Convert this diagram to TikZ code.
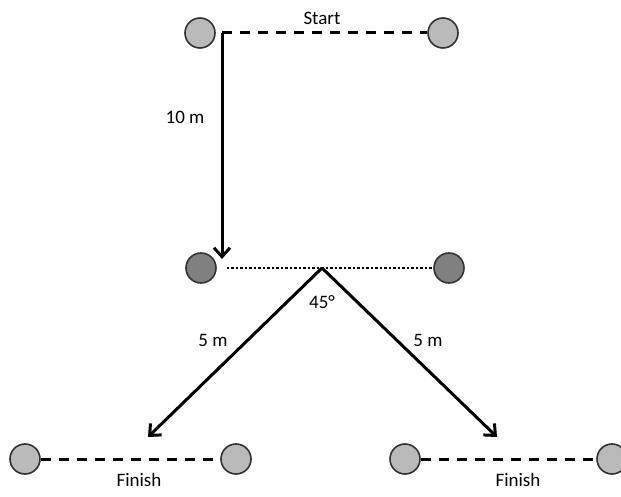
\documentclass[tikz,border=0pt]{standalone}
\usepackage{fontspec}
\setmainfont{Carlito}
\usetikzlibrary{arrows.meta}
\begin{document}
\begin{tikzpicture}[x=1pt,y=-1pt,
  cone/.style={circle,draw=black!80,line width=1.6pt,minimum size=30pt,inner sep=0pt},
  light/.style={cone,fill=black!27},
  dark/.style={cone,fill=black!50},
  lab/.style={font=\fontsize{19}{21}\selectfont,inner sep=0pt},
  path/.style={line width=3pt},
  dashline/.style={path,dash pattern=on 10pt off 8pt},
  dotline/.style={line width=2.8pt,dash pattern=on 2.5pt off 2pt},
  run/.style={path,-{Straight Barb[length=9pt,width=16pt,line width=3pt]}}]
\useasboundingbox (0,0) rectangle (621,497);
% start line
\node[light] (s1) at (200,33) {};
\node[light] (s2) at (443,33) {};
\coordinate (corner) at (222,33);
\node[lab] (start) at (322,18) {Start};
% turning line
\node[dark] (m1) at (201,268) {};
\node[dark] (m2) at (449,268) {};
\coordinate (turn) at (322,268);
\coordinate (down) at (222,259);
\node[lab] (ten) at (185,117) {10 m};
\node[lab] (ang) at (322,302) {45°};
% finish lines
\node[light] (f1) at (25,459) {};
\node[light] (f2) at (236,459) {};
\node[light] (f3) at (405,459) {};
\node[light] (f4) at (612,459) {};
\node[lab] (fin1) at (139,480) {Finish};
\node[lab] (fin2) at (518,480) {Finish};
\coordinate (endL) at (148,437);
\coordinate (endR) at (497,437);
\node[lab] (fiveL) at (213,340) {5 m};
\node[lab] (fiveR) at (428,340) {5 m};
% connectors
\draw[dashline] (corner) -- (s2.west);
\draw[run] (corner) -- (down);
\draw[dotline] (m1.east) ++(10pt,0) -- (m2.west);
\draw[run] (turn) -- (endL);
\draw[run] (turn) -- (endR);
\draw[dashline] (f1.east) -- (f2.west);
\draw[dashline] (f3.east) -- (f4.west);
\end{tikzpicture}
\end{document}
